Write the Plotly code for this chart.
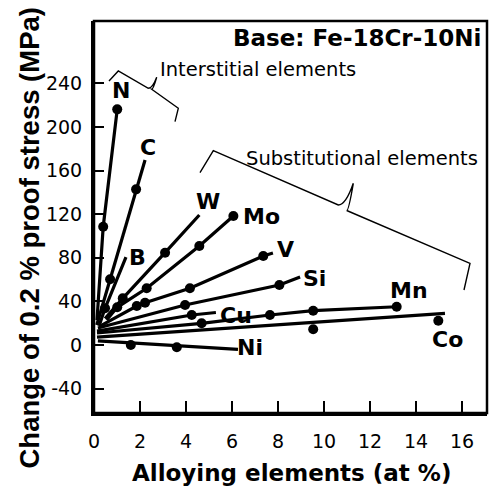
import plotly.graph_objects as go

# ---------------- data ----------------
elements = ["N", "C", "B", "W", "Mo", "V", "Si", "Cu", "Mn", "Co", "Ni"]

N_line_x = [0.13, 0.40, 1.01]
N_line_y = [22.9, 108.5, 216.2]
N_dot_x = [0.40, 1.01]
N_dot_y = [108.5, 216.2]

C_line_x = [0.12, 0.70, 1.83, 2.22]
C_line_y = [18.3, 60.3, 142.8, 169.7]
C_dot_x = [0.70, 1.83]
C_dot_y = [60.3, 142.8]

B_line_x = [0.22, 0.48, 1.39]
B_line_y = [17.4, 33.7, 80.7]
B_dot_x = [0.48]
B_dot_y = [33.7]

W_line_x = [0.48, 1.25, 3.09, 4.58]
W_line_y = [24.3, 42.8, 84.7, 119.3]
W_dot_x = [1.25, 3.09]
W_dot_y = [42.8, 84.7]

Mo_line_x = [0.55, 1.01, 2.29, 4.58, 6.06]
Mo_line_y = [22.9, 34.6, 52.0, 90.8, 118.3]
Mo_dot_x = [1.01, 2.29, 4.58, 6.06]
Mo_dot_y = [34.6, 52.0, 90.8, 118.3]

V_line_x = [0.26, 1.86, 2.22, 4.17, 7.36, 7.78]
V_line_y = [17.4, 35.8, 38.8, 52.0, 81.7, 84.4]
V_dot_x = [1.86, 2.22, 4.17, 7.36]
V_dot_y = [35.8, 38.8, 52.0, 81.7]

Si_line_x = [0.17, 3.96, 8.06, 8.96]
Si_line_y = [15.6, 36.7, 55.0, 62.4]
Si_dot_x = [3.96, 8.06]
Si_dot_y = [36.7, 55.0]

Cu_line_x = [0.13, 4.25, 5.30]
Cu_line_y = [12.8, 27.5, 29.8]
Cu_dot_x = [4.25]
Cu_dot_y = [27.5]

Mn_line_x = [0.13, 4.68, 7.65, 9.53, 13.16]
Mn_line_y = [11.0, 19.9, 27.5, 31.5, 35.1]
Mn_dot_x = [4.68, 7.65, 9.53, 13.16]
Mn_dot_y = [19.9, 27.5, 31.5, 35.1]

Co_line_x = [0.13, 15.26]
Co_line_y = [7.3, 29.1]
Co_dot_x = [9.53, 14.97]
Co_dot_y = [14.4, 22.3]

Ni_line_x = [0.17, 6.26]
Ni_line_y = [3.7, -4.1]
Ni_dot_x = [1.60, 3.60]
Ni_dot_y = [0.0, -2.1]

x_tick_vals = [0, 2, 4, 6, 8, 10, 12, 14, 16]
y_tick_vals = [-40, 0, 40, 80, 120, 160, 200, 240]

lines = {
    "N": (N_line_x, N_line_y, N_dot_x, N_dot_y),
    "C": (C_line_x, C_line_y, C_dot_x, C_dot_y),
    "B": (B_line_x, B_line_y, B_dot_x, B_dot_y),
    "W": (W_line_x, W_line_y, W_dot_x, W_dot_y),
    "Mo": (Mo_line_x, Mo_line_y, Mo_dot_x, Mo_dot_y),
    "V": (V_line_x, V_line_y, V_dot_x, V_dot_y),
    "Si": (Si_line_x, Si_line_y, Si_dot_x, Si_dot_y),
    "Cu": (Cu_line_x, Cu_line_y, Cu_dot_x, Cu_dot_y),
    "Mn": (Mn_line_x, Mn_line_y, Mn_dot_x, Mn_dot_y),
    "Co": (Co_line_x, Co_line_y, Co_dot_x, Co_dot_y),
    "Ni": (Ni_line_x, Ni_line_y, Ni_dot_x, Ni_dot_y),
}

# ---------------- layout geometry ----------------
WIDTH, HEIGHT = 489, 488
ML, MR, MT, MB = 94, 2, 21, 75
X_RANGE = [0, (WIDTH - MR - ML) / 23.0]
Y_RANGE = [(345 - (HEIGHT - MB)) / 1.09, (345 - MT) / 1.09]
PW = WIDTH - ML - MR
PH = HEIGHT - MT - MB


def px2x(px):
    return X_RANGE[0] + (px - ML) / PW * (X_RANGE[1] - X_RANGE[0])


def px2y(py):
    return Y_RANGE[1] - (py - MT) / PH * (Y_RANGE[1] - Y_RANGE[0])


def ppx(px):
    return (px - ML) / PW


def ppy(py):
    return (HEIGHT - MB - py) / PH


fig = go.Figure()
for el in elements:
    lx, ly, dx, dy = lines[el]
    fig.add_trace(go.Scatter(x=lx, y=ly, mode="lines",
                             line=dict(color="black", width=3.2),
                             showlegend=False, hoverinfo="skip"))
    fig.add_trace(go.Scatter(x=dx, y=dy, mode="markers",
                             marker=dict(color="black", size=10),
                             showlegend=False, name=el))

BOLD = "DejaVu Sans"
label_pos = {
    "N": (120.5, 90.5), "C": (148.3, 147), "B": (137.5, 257),
    "W": (207.5, 201.5), "Mo": (261, 216), "V": (285, 249),
    "Si": (314, 278.5), "Cu": (235.5, 315), "Mn": (409, 290),
    "Co": (447.5, 339), "Ni": (250, 347),
}
annotations = []
for el in elements:
    px, py = label_pos[el]
    annotations.append(dict(x=px2x(px), y=px2y(py), xref="x", yref="y",
                            text="<b>%s</b>" % el, showarrow=False,
                            xanchor="center", yanchor="middle",
                            font=dict(family=BOLD, size=22, color="black")))

annotations.append(dict(x=ppx(357), y=ppy(38), xref="paper", yref="paper",
                        text="<b>Base: Fe-18Cr-10Ni</b>", showarrow=False,
                        xanchor="center", yanchor="middle",
                        font=dict(family=BOLD, size=23, color="black")))
annotations.append(dict(x=ppx(258.3), y=ppy(69), xref="paper", yref="paper",
                        text="Interstitial elements", showarrow=False,
                        xanchor="center", yanchor="middle",
                        font=dict(family="DejaVu Sans", size=19.5, color="black")))
annotations.append(dict(x=ppx(361.5), y=ppy(158), xref="paper", yref="paper",
                        text="Substitutional elements", showarrow=False,
                        xanchor="center", yanchor="middle",
                        font=dict(family="DejaVu Sans", size=19.5, color="black")))
annotations.append(dict(x=ppx(291.5), y=ppy(473), xref="paper", yref="paper",
                        text="<b>Alloying elements (at %)</b>", showarrow=False,
                        xanchor="center", yanchor="middle",
                        font=dict(family=BOLD, size=23, color="black")))
annotations.append(dict(x=ppx(29), y=ppy(238.5), xref="paper", yref="paper",
                        text="<b>Change of 0.2 % proof stress (MPa)</b>",
                        showarrow=False, textangle=-90,
                        xanchor="center", yanchor="middle",
                        font=dict(family="Liberation Sans", size=27.5, color="black")))


def brace_path(pts, tip, junction_idx):
    p = [(px2x(a), px2y(b)) for a, b in pts]
    t = (px2x(tip[0]), px2y(tip[1]))
    s = "M %f,%f" % p[0]
    for q in p[1:junction_idx + 1]:
        s += " L %f,%f" % q
    j = p[junction_idx]
    s += " Q %f,%f %f,%f" % (j[0] + (t[0] - j[0]) * 0.5, j[1], t[0], t[1])
    j2 = p[junction_idx + 1]
    s += " M %f,%f Q %f,%f %f,%f" % (t[0], t[1], j2[0] + (t[0] - j2[0]) * 0.3, j2[1], j2[0], j2[1])
    for q in p[junction_idx + 2:]:
        s += " L %f,%f" % q
    return s


shapes = [
    dict(type="path", xref="x", yref="y",
         path=brace_path([(109, 81), (118.3, 71), (148.3, 88.3), (151.7, 89.3),
                          (178.3, 108.3), (175, 121.7)], (156.7, 77.3), 2),
         line=dict(color="black", width=1.4)),
    dict(type="path", xref="x", yref="y",
         path=brace_path([(200, 172.7), (213.3, 150.7), (338.3, 205), (346.7, 210.5),
                          (470, 263.3), (464, 290)], (353.3, 183.3), 2),
         line=dict(color="black", width=1.4)),
    dict(type="rect", xref="paper", yref="paper", x0=0, x1=1, y0=0, y1=1,
         line=dict(color="black", width=2.5), layer="above"),
]

fig.update_layout(
    width=WIDTH, height=HEIGHT,
    margin=dict(l=ML, r=MR, t=MT, b=MB, pad=0),
    paper_bgcolor="white", plot_bgcolor="white",
    showlegend=False,
    annotations=annotations, shapes=shapes,
    xaxis=dict(range=X_RANGE, tickvals=x_tick_vals,
               ticktext=[str(v) for v in x_tick_vals],
               showgrid=False, zeroline=False, showline=True,
               linecolor="black", linewidth=3, ticks="inside", ticklen=12,
               tickwidth=2, tickcolor="black", ticklabelstandoff=9,
               tickfont=dict(family="DejaVu Sans", size=19, color="black")),
    yaxis=dict(range=Y_RANGE, tickvals=y_tick_vals,
               ticktext=[str(v) for v in y_tick_vals],
               showgrid=False, zeroline=False, showline=True,
               linecolor="black", linewidth=3, ticks="inside", ticklen=10,
               tickwidth=2, tickcolor="black", ticklabelstandoff=5,
               tickfont=dict(family="DejaVu Sans", size=19, color="black")),
)

fig.write_html("out.html")
